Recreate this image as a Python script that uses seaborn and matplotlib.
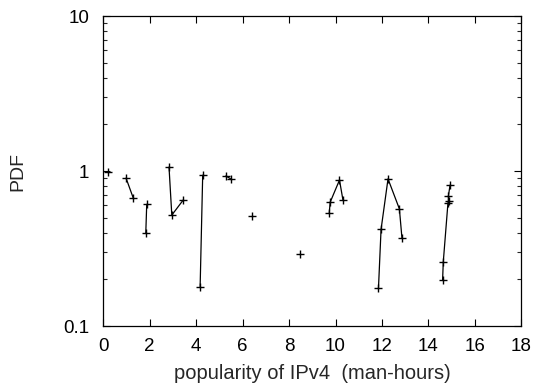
import matplotlib
matplotlib.use("Agg")
import matplotlib.pyplot as plt
import seaborn as sns
import pandas as pd
from matplotlib.ticker import LogLocator, NullFormatter, FixedLocator

# data: segments of connected points (gnuplot linespoints with gaps)
seg_a_x = [0.2];                         seg_a_y = [0.98]
seg_b_x = [0.98, 1.29];                  seg_b_y = [0.90, 0.67]
seg_c_x = [1.87, 1.83];                  seg_c_y = [0.61, 0.40]
seg_d_x = [2.83, 2.95, 3.44];            seg_d_y = [1.06, 0.52, 0.65]
seg_e_x = [4.17, 4.28];                  seg_e_y = [0.18, 0.94]
seg_f_x = [5.28, 5.49];                  seg_f_y = [0.93, 0.89]
seg_g_x = [6.39];                        seg_g_y = [0.51]
seg_h_x = [8.48];                        seg_h_y = [0.29]
seg_i_x = [9.73, 9.77, 10.17, 10.32];    seg_i_y = [0.54, 0.63, 0.875, 0.65]
seg_j_x = [11.85, 11.96, 12.26, 12.75, 12.86]; seg_j_y = [0.177, 0.42, 0.89, 0.57, 0.37]
seg_k_x = [14.61, 14.64, 14.84, 14.87, 14.86, 14.93]; seg_k_y = [0.198, 0.26, 0.62, 0.64, 0.69, 0.81]

segments = [(seg_a_x, seg_a_y), (seg_b_x, seg_b_y), (seg_c_x, seg_c_y), (seg_d_x, seg_d_y),
            (seg_e_x, seg_e_y), (seg_f_x, seg_f_y), (seg_g_x, seg_g_y), (seg_h_x, seg_h_y),
            (seg_i_x, seg_i_y), (seg_j_x, seg_j_y), (seg_k_x, seg_k_y)]

x_ticks = [0, 2, 4, 6, 8, 10, 12, 14, 16, 18]
y_ticks = [0.1, 1, 10]
y_tick_labels = ["0.1", "1", "10"]

rows = []
for i, (xs, ys) in enumerate(segments):
    for j, (x, y) in enumerate(zip(xs, ys)):
        rows.append({"x": x, "y": y, "seg": i, "order": j})
df = pd.DataFrame(rows)

sns.set_theme(style="ticks")
plt.rcParams['font.family'] = ['Liberation Sans', 'DejaVu Sans']

fig = plt.figure(figsize=(5.38, 3.91), dpi=100)
ax = fig.add_axes([0.192, 0.166, 0.777, 0.793])

sns.lineplot(data=df, x="x", y="y", units="seg", estimator=None, sort=False,
             color="black", linewidth=0.9, marker="+", markersize=6,
             markeredgewidth=1.0, markeredgecolor="black", ax=ax)

ax.set_yscale("log")
ax.set_xlim(0, 18)
ax.set_ylim(0.1, 10)
ax.xaxis.set_major_locator(FixedLocator(x_ticks))
ax.set_xticklabels([str(t) for t in x_ticks])
ax.yaxis.set_major_locator(FixedLocator(y_ticks))
ax.set_yticklabels(y_tick_labels)
ax.yaxis.set_minor_locator(LogLocator(base=10, subs=range(2, 10)))
ax.yaxis.set_minor_formatter(NullFormatter())

ax.tick_params(axis="both", which="major", direction="in", length=5, width=0.8,
               top=True, right=True, labelsize=13.5, colors="black")
ax.tick_params(axis="x", which="major", pad=8.5)
ax.tick_params(axis="y", which="major", pad=10)
ax.tick_params(axis="y", which="minor", direction="in", length=3, width=0.8,
               left=True, right=True)
for s in ax.spines.values():
    s.set_linewidth(0.9)
    s.set_color("black")

ax.set_xlabel("popularity of IPv4  (man-hours)", fontsize=14.5)
ax.set_ylabel("PDF", fontsize=14)
ax.xaxis.set_label_coords(0.5, -0.122)
ax.yaxis.set_label_coords(-0.183, 0.5)
ax.grid(False)

fig.savefig("out.png", dpi=100)
